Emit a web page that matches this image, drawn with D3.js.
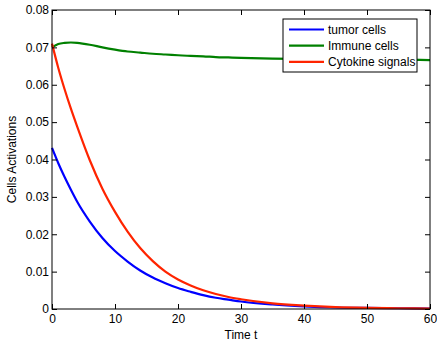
<!DOCTYPE html>
<html>
<head>
<meta charset="utf-8">
<script src="https://cdn.jsdelivr.net/npm/d3@7"></script>
<style>
  body { margin: 0; background: #fff; }
  text { font-family: "Liberation Sans", Arial, sans-serif; }
</style>
</head>
<body>
<div id="chart"></div>
<script>
// time points and series values
const time = [0, 1, 2, 3, 4, 6, 8, 10, 12, 14, 16, 18, 20, 22, 24, 26, 28, 30, 35, 40, 45, 50, 55, 60];
const tumor = [0.0431, 0.0390, 0.0353, 0.0319, 0.0287, 0.0234, 0.0190, 0.0155, 0.0127, 0.0103, 0.0084, 0.0069, 0.0056, 0.0046, 0.0037, 0.0030, 0.0025, 0.0020, 0.0012, 0.0007, 0.0004, 0.0003, 0.0002, 0.0001];
const immune = [0.0700, 0.0709, 0.0712, 0.0713, 0.0712, 0.0707, 0.0700, 0.0694, 0.0689, 0.0686, 0.0683, 0.0681, 0.0679, 0.0677, 0.0676, 0.0674, 0.0673, 0.0672, 0.0670, 0.0669, 0.0668, 0.0667, 0.0667, 0.0666];
const cytokine = [0.0710, 0.0645, 0.0588, 0.0536, 0.0488, 0.0398, 0.0322, 0.0260, 0.0207, 0.0163, 0.0128, 0.0100, 0.0079, 0.0063, 0.0050, 0.0040, 0.0032, 0.0026, 0.0015, 0.0009, 0.0005, 0.0003, 0.0002, 0.0001];

const seriesNames = ["tumor cells", "Immune cells", "Cytokine signals"];
const seriesColors = ["#0000ff", "#008000", "#ff2400"];
const xTicks = [0, 10, 20, 30, 40, 50, 60];
const yTicks = [0, 0.01, 0.02, 0.03, 0.04, 0.05, 0.06, 0.07, 0.08];

// set the dimensions and margins of the graph
const W = 437, H = 347;
const margin = { top: 10, right: 7, bottom: 38, left: 52 },
  width = W - margin.left - margin.right,
  height = H - margin.top - margin.bottom;

const svg = d3.select("#chart")
  .append("svg")
  .attr("width", W)
  .attr("height", H)
  .append("g")
  .attr("transform", `translate(${margin.left},${margin.top})`);

const x = d3.scaleLinear().domain([0, 60]).range([0, width]);
const y = d3.scaleLinear().domain([0, 0.08]).range([height, 0]);

// lines
const allSeries = [tumor, immune, cytokine];
const line = d3.line()
  .x(d => x(d[0]))
  .y(d => y(d[1]))
  .curve(d3.curveMonotoneX);

allSeries.forEach((vals, i) => {
  svg.append("path")
    .datum(time.map((t, j) => [t, vals[j]]))
    .attr("fill", "none")
    .attr("stroke", seriesColors[i])
    .attr("stroke-width", 2.2)
    .attr("d", line);
});

// axes (ticks inside, box on)
function styleAxis(g) {
  g.select(".domain").remove();
  g.selectAll(".tick line").attr("stroke", "#000");
  g.selectAll(".tick text").attr("fill", "#000").style("font-size", "12px");
}

svg.append("g")
  .attr("transform", `translate(0,${height})`)
  .call(d3.axisBottom(x).tickValues(xTicks).tickSize(-5).tickPadding(5).tickFormat(d3.format("d")))
  .call(styleAxis);

svg.append("g")
  .call(d3.axisLeft(y).tickValues(yTicks).tickSize(-5).tickPadding(3).tickFormat(d => d === 0 ? "0" : d3.format(".2f")(d)))
  .call(styleAxis);

svg.append("g")
  .call(d3.axisTop(x).tickValues(xTicks).tickSize(-5).tickFormat(""))
  .call(styleAxis);

svg.append("g")
  .attr("transform", `translate(${width},0)`)
  .call(d3.axisRight(y).tickValues(yTicks).tickSize(-5).tickFormat(""))
  .call(styleAxis);

svg.append("rect")
  .attr("width", width)
  .attr("height", height)
  .attr("fill", "none")
  .attr("stroke", "#000")
  .attr("stroke-width", 1);

// axis labels
svg.append("text")
  .attr("x", width / 2)
  .attr("y", height + 30)
  .attr("text-anchor", "middle")
  .style("font-size", "12px")
  .text("Time t");

svg.append("text")
  .attr("transform", `translate(${-36},${height / 2}) rotate(-90)`)
  .attr("text-anchor", "middle")
  .style("font-size", "12px")
  .text("Cells Activations");

// legend
const legend = svg.append("g")
  .attr("transform", `translate(${283 - margin.left},${19 - margin.top})`);

legend.append("rect")
  .attr("width", 134)
  .attr("height", 53)
  .attr("fill", "#fff")
  .attr("stroke", "#000");

seriesNames.forEach((name, i) => {
  const ly = 10.5 + i * 16.2;
  legend.append("line")
    .attr("x1", 6).attr("x2", 41)
    .attr("y1", ly).attr("y2", ly)
    .attr("stroke", seriesColors[i])
    .attr("stroke-width", 2.2);
  legend.append("text")
    .attr("x", 45)
    .attr("y", ly)
    .attr("dy", "0.35em")
    .style("font-size", "12px")
    .text(name);
});
</script>
</body>
</html>
